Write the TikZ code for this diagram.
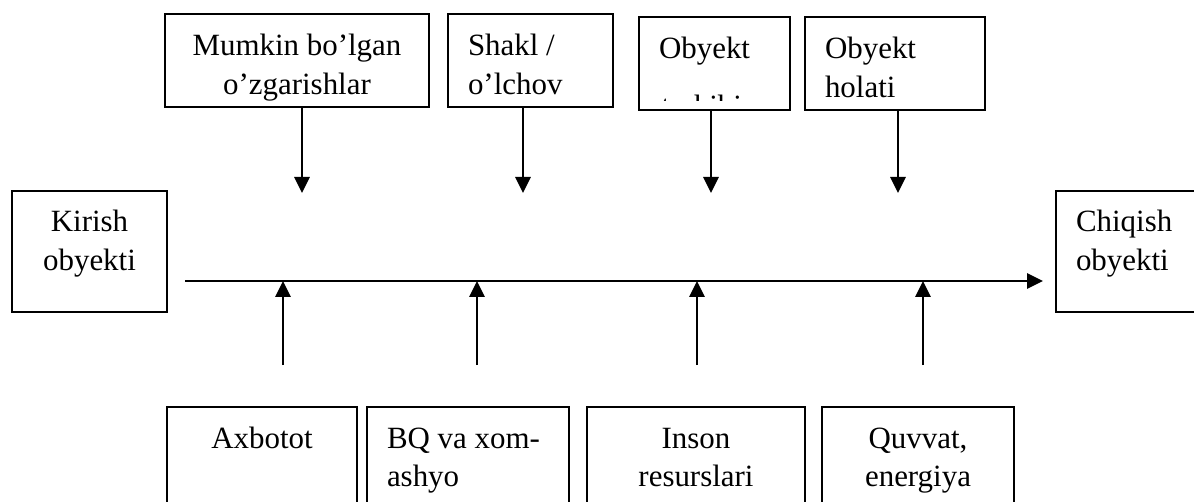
\documentclass[tikz,border=0pt]{standalone}
\usepackage{fontspec}
\setmainfont{Liberation Serif}
\usetikzlibrary{arrows.meta}
\begin{document}
\begin{tikzpicture}[
    font=\fontsize{22}{27.7}\selectfont,
    box/.style={draw, line width=1.2pt, inner xsep=0.5cm, inner ysep=0pt,
      text height=1.03cm, anchor=base},
    topbox/.style={box, text depth=1.3cm},
    sidebox/.style={box, text depth=2cm},
    botbox/.style={box, text depth=2.4cm},
    arr/.style={line width=1.6pt, -{Triangle[width=0.38cm,length=0.4cm]}}]
  \useasboundingbox (0,0) rectangle (29.85,12.525);
  \clip (0,0) rectangle (29.85,12.525);
  % upper boxes
  \node[topbox, text width=5.6cm, align=flush center] (mum) at (7.425,11.145) {Mumkin bo’lgan\\o’zgarishlar};
  \node[topbox, text width=3.125cm, align=flush left] (shakl) at (13.2625,11.145) {Shakl /\\o’lchov};
  \node[topbox, text width=2.775cm, align=flush left] (obyk) at (17.8625,11.07) {Obyekt};
  \node[topbox, text width=3.5cm, align=flush left] (hol) at (22.375,11.07) {Obyekt\\holati};
  \begin{scope}
    \clip (obyk.north west) rectangle ([yshift=0.255cm]obyk.south east);
    \node[anchor=base west, inner sep=0pt] (tark) at (16.525,9.6) {tarkibi};
  \end{scope}
  % input / output
  \node[sidebox, text width=2.875cm, align=flush center] (kir) at (2.2375,6.725) {Kirish\\obyekti};
  \node[sidebox, text width=3cm, align=flush left] (chi) at (28.4,6.725) {Chiqish\\obyekti};
  % lower boxes
  \node[botbox, text width=3.75cm, align=flush center] (ax) at (6.55,1.325) {Axbotot};
  \node[botbox, text width=4.05cm, align=flush left] (bq) at (11.7,1.325) {BQ va xom-\\ashyo};
  \node[botbox, text width=4.45cm, align=flush center] (ins) at (17.4,1.325) {Inson\\resurslari};
  \node[botbox, text width=3.8cm, align=flush center] (quv) at (22.95,1.325) {Quvvat,\\energiya};
  % main line
  \coordinate (in) at (4.625,5.5);
  \coordinate (out) at (26.075,5.5);
  \draw[arr] (in) -- (out);
  \foreach \n/\x in {mum/7.55,shakl/13.075,obyk/17.775,hol/22.45} {
    \coordinate (\n-tip) at (\x,7.7);
    \draw[arr] (\n-tip |- \n.south) -- (\n-tip);
  }
  \foreach \n/\x in {ax/7.075,bq/11.925,ins/17.425,quv/23.075} {
    \coordinate (\n-tail) at (\x,3.4);
    \draw[arr] (\n-tail) -- (\n-tail |- in);
  }
\end{tikzpicture}
\end{document}
